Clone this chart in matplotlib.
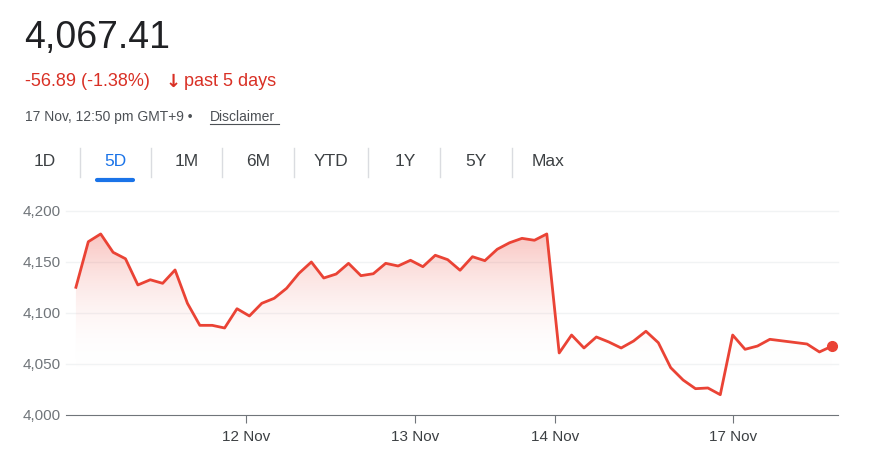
import numpy as np
import matplotlib.pyplot as plt
from matplotlib.colors import LinearSegmentedColormap
from matplotlib.patches import Polygon

plt.rcParams['font.family'] = ['Liberation Sans', 'DejaVu Sans']

# price points (index = time step)
steps = list(range(57)) + [59, 60, 61]
prices = [4125.2, 4169.9, 4177.5, 4159.5, 4153.2, 4127.5, 4132.6, 4129.1, 4142.2, 4109.5,
          4087.9, 4087.9, 4085.3, 4104.2, 4097.1, 4109.5, 4114.4, 4124.2, 4138.9, 4150.0,
          4134.3, 4138.2, 4148.7, 4136.6, 4138.5, 4148.7, 4146.1, 4151.7, 4145.4, 4156.6,
          4152.3, 4141.9, 4155.2, 4151.3, 4162.5, 4168.9, 4173.2, 4171.3, 4177.5, 4060.8,
          4078.4, 4065.7, 4076.5, 4071.6, 4065.7, 4072.5, 4082.1, 4070.9, 4046.4, 4034.3,
          4025.8, 4026.5, 4019.9, 4078.4, 4064.4, 4067.6, 4074.2, 4069.6, 4061.8, 4067.41]
day_ticks = [13.7, 27.4, 38.7, 53.0]
day_labels = ['12 Nov', '13 Nov', '14 Nov', '17 Nov']
y_ticks = [4000, 4050, 4100, 4150, 4200]
tabs = ['1D', '5D', '1M', '6M', 'YTD', '1Y', '5Y', 'Max']
tab_x = [45, 115, 187, 258, 331, 405, 476, 548]

red = '#ea4335'
grey = '#70757a'
W, H = 870, 454

fig = plt.figure(figsize=(8.7, 4.54), dpi=100)
fig.text(24 / W, 1 - 38 / H, '4,067.41', fontsize=27, color='#202124', va='center')
fig.text(25 / W, 1 - 82 / H, '-56.89 (-1.38%)', fontsize=13, color='#d93025', va='center')
fig.text(166 / W, 1 - 82 / H, '\u2193', fontsize=13, color='#d93025', va='center',
         fontweight='bold', family='DejaVu Sans')
fig.text(184 / W, 1 - 82 / H, 'past 5 days', fontsize=13, color='#d93025', va='center')
fig.text(25 / W, 1 - 117 / H, '17 Nov, 12:50 pm GMT+9 \u2022 ', fontsize=10, color='#4d5156', va='center')
fig.text(210 / W, 1 - 117 / H, 'Disclaimer', fontsize=10, color='#4d5156', va='center')
fig.add_artist(plt.Line2D([210 / W, 279 / W], [1 - 124 / H] * 2, color='#4d5156', lw=0.8))

for i, (t, x) in enumerate(zip(tabs, tab_x)):
    fig.text(x / W, 1 - 162 / H, t, fontsize=12.5, ha='center', va='center',
             color='#1a73e8' if t == '5D' else '#3c4043')
    if i < len(tabs) - 1:
        sx = (x + tab_x[i + 1]) / 2
        fig.add_artist(plt.Line2D([sx / W] * 2, [1 - 148 / H, 1 - 177 / H], color='#dadce0', lw=1))
fig.add_artist(plt.Line2D([97 / W, 133 / W], [1 - 180 / H] * 2, color='#1a73e8', lw=3,
                          solid_capstyle='round'))

ax = fig.add_axes([66 / W, 39 / H, 772 / W, 204 / H])
ax.set_xlim(-0.8, 61.5)
ax.set_ylim(4000, 4200)

# gradient fill under the line
cmap = LinearSegmentedColormap.from_list('g', [(1, 1, 1, 0), (0.92, 0.26, 0.21, 0.32)])
img = ax.imshow(np.linspace(0, 1, 256).reshape(-1, 1), cmap=cmap, aspect='auto',
                extent=[-0.8, 61.5, 4045, 4180], origin='lower', zorder=1)
poly = Polygon(list(zip(steps, prices)) + [(steps[-1], 4000), (steps[0], 4000)],
               closed=True, transform=ax.transData, facecolor='none', edgecolor='none')
ax.add_patch(poly)
img.set_clip_path(poly)

ax.plot(steps, prices, color=red, lw=2, zorder=3)
ax.plot(steps[-1], prices[-1], 'o', color=red, ms=7, zorder=4, clip_on=False)

ax.set_yticks(y_ticks)
ax.set_yticklabels([f'{v:,}' for v in y_ticks])
ax.set_xticks(day_ticks)
ax.set_xticklabels(day_labels)
ax.tick_params(axis='y', length=0, colors=grey, labelsize=11, pad=4)
ax.tick_params(axis='x', length=6, color=grey, labelcolor='#3c4043', labelsize=11, pad=5)
for v in y_ticks[1:]:
    ax.axhline(v, color='#f1f3f4', lw=1, zorder=0, clip_on=False)
for s in ['top', 'right', 'left']:
    ax.spines[s].set_visible(False)
ax.spines['bottom'].set_color(grey)

fig.savefig('out.png', dpi=100)
